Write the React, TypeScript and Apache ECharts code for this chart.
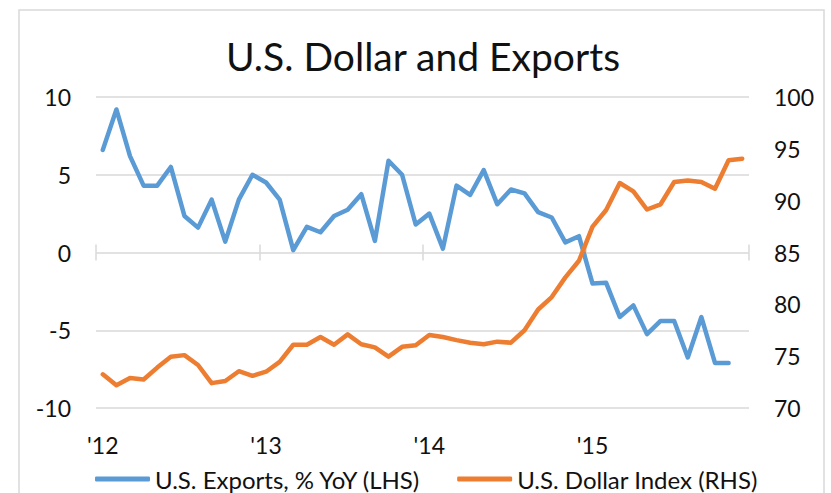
import React, { useEffect, useRef } from "react";
import * as echarts from "echarts";

const months: string[] = [];
for (let y = 2012; y <= 2015; y++) {
  for (let m = 1; m <= 12; m++) months.push(`${y}-${String(m).padStart(2, "0")}`);
}
const yearLabels = ["'12", "'13", "'14", "'15"];

const exportsYoY: (number | null)[] = [
  6.6, 9.2, 6.2, 4.3, 4.3, 5.5, 2.35, 1.6, 3.4, 0.7, 3.4, 5.0,
  4.5, 3.4, 0.15, 1.65, 1.3, 2.35, 2.75, 3.75, 0.75, 5.9, 5.0, 1.8,
  2.5, 0.25, 4.3, 3.7, 5.3, 3.1, 4.05, 3.8, 2.6, 2.25, 0.65, 1.05,
  -2.0, -1.95, -4.15, -3.4, -5.25, -4.4, -4.4, -6.75, -4.15, -7.1, -7.1, null,
];
const dollarIndex: number[] = [
  73.25, 72.2, 72.9, 72.75, 73.9, 74.95, 75.1, 74.15, 72.4, 72.6, 73.55, 73.1,
  73.5, 74.45, 76.1, 76.1, 76.85, 76.1, 77.1, 76.15, 75.85, 74.95, 75.9, 76.05,
  77.05, 76.85, 76.55, 76.3, 76.15, 76.4, 76.3, 77.5, 79.5, 80.7, 82.6, 84.2,
  87.5, 89.1, 91.7, 90.9, 89.15, 89.65, 91.8, 91.95, 91.8, 91.15, 93.9, 94.05,
];
const leftTicks = { min: -10, max: 10, interval: 5 };
const rightTicks = { min: 70, max: 100, interval: 5 };
const seriesNames = ["U.S. Exports, % YoY (LHS)", "U.S. Dollar Index (RHS)"];
const titleText = "U.S. Dollar and Exports";

const FONT = "Lato";
const GRID = "#d9d9d9";
const TEXT = "#111111";

export default function App() {
  const ref = useRef<HTMLDivElement>(null);
  useEffect(() => {
    if (!ref.current) return;
    const chart = echarts.init(ref.current, undefined, { renderer: "svg" });
    const tickAxisBase = {
      type: "category" as const,
      data: months,
      boundaryGap: true,
      axisLine: { show: false, onZero: true, onZeroAxisIndex: 0 },
      axisLabel: { show: false },
      axisTick: {
        show: true,
        interval: 11,
        length: 8,
        lineStyle: { color: GRID, width: 1.5 },
      },
      splitLine: { show: false },
    };
    chart.setOption({
      animation: false,
      textStyle: { fontFamily: FONT },
      graphic: [
        {
          type: "rect",
          shape: { x: 19, y: 10, width: 805, height: 500 },
          style: { fill: "none", stroke: GRID, lineWidth: 1.5 },
          silent: true,
        },
        {
          type: "text",
          x: 423,
          y: 56,
          style: {
            text: titleText,
            fontFamily: FONT,
            fontSize: 39,
            fill: TEXT,
            textAlign: "center",
            textVerticalAlign: "middle",
          },
        },
      ],
      legend: {
        left: 95,
        top: 467,
        padding: 0,
        itemWidth: 55,
        itemHeight: 5,
        itemGap: 36,
        icon: "roundRect",
        textStyle: { fontFamily: FONT, fontSize: 24, color: TEXT, lineHeight: 24 },
        data: seriesNames,
      },
      grid: { left: 96, right: 82, top: 97, bottom: 85, containLabel: false },
      xAxis: [
        {
          type: "category",
          data: months,
          boundaryGap: true,
          axisLine: { show: false, onZero: false },
          axisTick: { show: false },
          axisLabel: {
            interval: 11,
            margin: 25,
            fontSize: 23,
            fontFamily: FONT,
            color: TEXT,
            formatter: (_v: string, idx: number) => yearLabels[Math.floor(idx / 12)] ?? "",
          },
          splitLine: { show: false },
        },
        { ...tickAxisBase, axisTick: { ...tickAxisBase.axisTick, inside: false } },
        { ...tickAxisBase, axisTick: { ...tickAxisBase.axisTick, inside: true } },
      ],
      yAxis: [
        {
          type: "value",
          ...leftTicks,
          position: "left",
          axisLine: { show: false },
          axisTick: { show: false },
          axisLabel: { margin: 25, fontSize: 23, fontFamily: FONT, color: TEXT },
          splitLine: { show: true, lineStyle: { color: GRID, width: 1.5 } },
        },
        {
          type: "value",
          ...rightTicks,
          position: "right",
          axisLine: { show: false },
          axisTick: { show: false },
          axisLabel: { margin: 25, fontSize: 23, fontFamily: FONT, color: TEXT },
          splitLine: { show: false },
        },
      ],
      series: [
        {
          name: seriesNames[0],
          type: "line",
          xAxisIndex: 0,
          yAxisIndex: 0,
          data: exportsYoY,
          showSymbol: false,
          symbol: "none",
          lineStyle: { color: "#5b9bd5", width: 4.5, cap: "round", join: "round" },
          itemStyle: { color: "#5b9bd5" },
          z: 3,
        },
        {
          name: seriesNames[1],
          type: "line",
          xAxisIndex: 0,
          yAxisIndex: 1,
          data: dollarIndex,
          showSymbol: false,
          symbol: "none",
          lineStyle: { color: "#ed7d31", width: 4.5, cap: "round", join: "round" },
          itemStyle: { color: "#ed7d31" },
          z: 4,
        },
      ],
    });
    return () => chart.dispose();
  }, []);
  return (
    <div
      ref={ref}
      style={{ position: "fixed", left: 0, top: 0, width: 831, height: 493, background: "#fff" }}
    />
  );
}
